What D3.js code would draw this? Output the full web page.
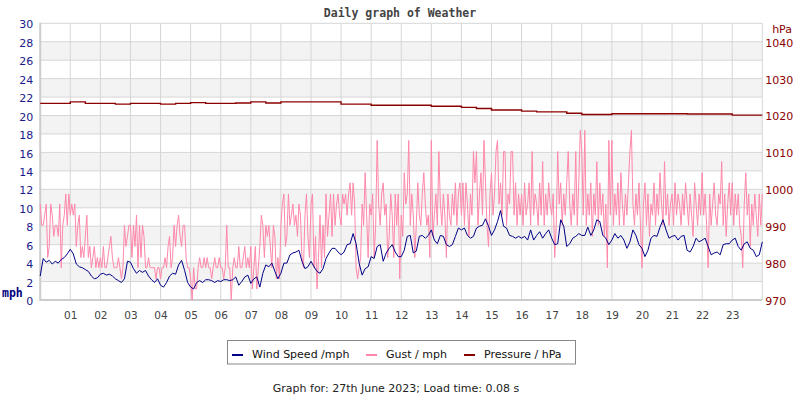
<!DOCTYPE html>
<html>
<head>
<meta charset="utf-8">
<script src="https://d3js.org/d3.v7.min.js"></script>
<style>
  body { margin: 0; background: #fff; }
  svg { display: block; font-family: "DejaVu Sans", sans-serif; }
</style>
</head>
<body>
<svg id="chart" width="800" height="400"></svg>
<script>
// wind: one sample every 0.1 h (6 minutes), 00:00 .. 24:00
var windStep = 0.1;
var windSpeed = [
  2.6, 4.5, 4.1, 4.3, 3.9, 4.2, 4.0, 4.4, 4.6, 5.0,
  5.5, 5.0, 3.9, 3.6, 3.5, 3.3, 3.1, 2.6, 2.3, 2.4,
  2.8, 2.9, 2.7, 2.8, 2.6, 2.3, 2.1, 1.9, 2.3, 4.2,
  4.1, 3.4, 2.9, 3.2, 3.0, 3.2, 2.6, 2.2, 1.9, 2.3,
  1.6, 1.4, 1.9, 2.6, 2.9, 2.8, 3.8, 4.3, 3.2, 1.9,
  1.4, 1.2, 1.9, 2.1, 1.9, 2.2, 2.2, 2.1, 1.9, 2.1,
  2.0, 2.2, 2.2, 2.1, 2.2, 2.5, 1.6, 2.0, 2.5, 2.7,
  1.8, 2.3, 2.5, 1.4, 2.9, 3.8, 3.6, 4.0, 3.1, 2.3,
  2.9, 4.0, 4.0, 4.9, 5.1, 5.2, 5.4, 4.2, 3.4, 3.6,
  4.2, 3.6, 3.1, 2.9, 3.4, 4.5, 5.1, 5.6, 5.6, 5.2,
  4.9, 5.2, 6.0, 6.1, 7.2, 6.1, 4.0, 2.7, 3.4, 3.6,
  4.7, 4.5, 5.8, 6.0, 4.2, 5.1, 5.6, 6.0, 5.2, 4.7,
  4.7, 5.4, 6.9, 7.0, 5.1, 5.3, 6.9, 7.0, 6.7, 7.0,
  7.6, 6.5, 6.1, 7.0, 6.9, 6.0, 5.8, 6.0, 6.9, 7.8,
  7.6, 7.8, 7.0, 6.7, 6.9, 7.8, 8.0, 8.1, 8.8, 8.0,
  7.0, 7.6, 8.5, 9.7, 8.0, 7.8, 7.0, 6.9, 6.7, 6.9,
  6.7, 6.9, 6.5, 7.6, 6.5, 7.0, 7.4, 6.7, 7.2, 7.6,
  6.7, 6.0, 6.1, 8.7, 8.0, 5.8, 6.1, 6.7, 6.9, 7.2,
  7.0, 7.0, 7.9, 7.0, 7.6, 8.7, 8.5, 7.0, 6.7, 6.0,
  6.5, 7.2, 6.7, 7.0, 6.5, 5.6, 6.3, 7.6, 7.0, 6.0,
  5.6, 4.7, 5.4, 6.7, 7.0, 6.9, 7.9, 8.7, 7.6, 6.7,
  6.9, 7.0, 6.5, 6.9, 7.0, 5.4, 5.2, 5.8, 6.7, 6.3,
  6.5, 6.7, 5.8, 4.9, 5.1, 5.2, 4.9, 6.0, 6.1, 6.1,
  6.5, 6.7, 5.8, 5.4, 6.1, 6.3, 5.6, 5.4, 4.7, 4.9,
  6.3
];

// gust: one sample every 0.05 h (3 minutes), one row per hour
var gustStep = 0.05;
var gust = [
  10.4, 8.1, 8.1, 9.2, 10.4, 4.6, 5.8, 10.4, 9.2, 6.9, 8.1, 8.1, 6.9, 10.4, 3.5, 8.1, 9.2, 11.5, 8.1, 11.5,
  9.2, 10.4, 9.2, 10.4, 5.8, 8.1, 9.2, 4.6, 5.8, 4.6, 6.9, 9.2, 4.6, 5.8, 3.5, 4.6, 5.8, 3.5, 4.6, 3.5,
  4.6, 3.5, 5.8, 3.5, 3.5, 4.6, 5.8, 6.9, 4.6, 3.5, 3.5, 3.5, 4.6, 3.5, 2.3, 3.5, 8.1, 5.8, 6.9, 8.1,
  8.1, 4.6, 8.1, 5.8, 9.2, 3.5, 8.1, 4.6, 8.1, 6.9, 3.5, 3.5, 4.6, 3.5, 3.5, 3.5, 3.5, 2.3, 3.5, 3.5,
  2.3, 3.5, 3.5, 4.6, 3.5, 5.8, 6.9, 3.5, 4.6, 8.1, 5.8, 8.1, 9.2, 6.9, 5.8, 8.1, 8.1, 4.6, 3.5, 3.5,
  2.3, 0.0, 3.5, 1.2, 1.2, 3.5, 4.6, 3.5, 3.5, 4.6, 3.5, 4.6, 3.5, 3.5, 2.3, 3.5, 4.6, 3.5, 3.5, 4.6,
  3.5, 3.5, 2.3, 3.5, 8.1, 3.5, 3.5, 0.0, 3.5, 4.6, 3.5, 3.5, 5.8, 3.5, 3.5, 4.6, 5.8, 3.5, 4.6, 3.5,
  5.8, 1.2, 3.5, 5.8, 1.2, 3.5, 5.8, 9.2, 8.1, 4.6, 8.1, 6.9, 8.1, 5.8, 3.5, 8.1, 6.9, 2.3, 4.6, 2.3,
  8.1, 10.4, 11.5, 5.8, 6.9, 11.5, 8.1, 9.2, 10.4, 8.1, 9.2, 6.9, 10.4, 9.2, 4.6, 3.5, 9.2, 11.5, 6.9, 4.6,
  10.4, 11.5, 3.5, 6.9, 1.2, 4.6, 9.2, 3.5, 8.1, 4.6, 11.5, 6.9, 9.2, 11.5, 6.9, 11.5, 8.1, 10.4, 11.5, 9.2,
  8.1, 11.5, 10.4, 11.5, 9.2, 11.5, 12.7, 9.2, 12.7, 10.4, 3.5, 2.3, 3.5, 4.6, 10.4, 8.1, 13.8, 9.2, 4.6, 10.4,
  9.2, 11.5, 4.6, 8.1, 17.3, 10.4, 8.1, 11.5, 12.7, 9.2, 10.4, 4.6, 6.9, 11.5, 9.2, 4.6, 11.5, 8.1, 11.5, 2.3,
  9.2, 6.9, 13.8, 10.4, 11.5, 17.3, 8.1, 11.5, 9.2, 4.6, 8.1, 12.7, 9.2, 8.1, 11.5, 13.8, 10.4, 8.1, 9.2, 4.6,
  17.3, 6.9, 9.2, 11.5, 8.1, 16.1, 10.4, 8.1, 11.5, 9.2, 4.6, 11.5, 9.2, 8.1, 11.5, 9.2, 12.7, 8.1, 11.5, 12.7,
  9.2, 12.7, 8.1, 12.7, 10.4, 6.9, 11.5, 9.2, 16.1, 12.7, 16.1, 8.1, 11.5, 13.8, 9.2, 17.3, 12.7, 8.1, 5.8, 11.5,
  13.8, 9.2, 11.5, 16.1, 17.3, 10.4, 12.7, 9.2, 16.1, 16.1, 8.1, 11.5, 10.4, 16.1, 16.1, 9.2, 12.7, 8.1, 11.5, 9.2,
  11.5, 8.1, 12.7, 9.2, 10.4, 12.7, 8.1, 16.1, 9.2, 11.5, 10.4, 8.1, 12.7, 9.2, 15.0, 8.1, 11.5, 9.2, 12.7, 10.4,
  9.2, 11.5, 4.6, 8.1, 16.1, 10.4, 12.7, 8.1, 11.5, 9.2, 12.7, 16.1, 10.4, 8.1, 11.5, 9.2, 16.1, 8.1, 12.7, 18.4,
  16.1, 9.2, 18.4, 8.1, 11.5, 9.2, 12.7, 6.9, 11.5, 9.2, 15.0, 8.1, 12.7, 9.2, 11.5, 6.9, 10.4, 3.5, 17.3, 9.2,
  17.3, 8.1, 11.5, 9.2, 12.7, 8.1, 13.8, 10.4, 8.1, 11.5, 9.2, 12.7, 16.1, 18.4, 10.4, 8.1, 11.5, 9.2, 12.7, 8.1,
  3.5, 10.4, 12.7, 8.1, 11.5, 6.9, 10.4, 9.2, 12.7, 8.1, 11.5, 9.2, 13.8, 10.4, 8.1, 15.0, 9.2, 11.5, 8.1, 10.4,
  11.5, 8.1, 12.7, 9.2, 11.5, 10.4, 8.1, 11.5, 9.2, 12.7, 10.4, 8.1, 11.5, 9.2, 6.9, 12.7, 10.4, 8.1, 11.5, 9.2,
  13.8, 9.2, 11.5, 8.1, 3.5, 11.5, 8.1, 10.4, 12.7, 9.2, 8.1, 11.5, 10.4, 15.0, 8.1, 11.5, 6.9, 10.4, 12.7, 9.2,
  12.7, 8.1, 11.5, 9.2, 11.5, 8.1, 6.9, 3.5, 10.4, 13.8, 9.2, 11.5, 5.8, 10.4, 8.1, 11.5, 9.2, 6.9, 11.5, 8.1,
  11.5
];

// pressure, every half hour
var pressureStep = 0.5;
var pressure = [
  1023.3, 1023.3, 1023.7, 1023.3, 1023.3, 1023.1, 1023.3, 1023.3,
  1023.1, 1023.3, 1023.5, 1023.3, 1023.3, 1023.4, 1023.7, 1023.4,
  1023.7, 1023.7, 1023.7, 1023.7, 1023.1, 1023.1, 1022.8, 1022.8,
  1022.8, 1022.8, 1022.5, 1022.5, 1022.2, 1021.9, 1021.5, 1021.5,
  1021.2, 1021.0, 1021.0, 1020.6, 1020.3, 1020.3, 1020.5, 1020.5,
  1020.5, 1020.5, 1020.5, 1020.4, 1020.4, 1020.4, 1020.1, 1020.1,
  1020.1
];

var mphTicks = [0, 2, 4, 6, 8, 10, 12, 14, 16, 18, 20, 22, 24, 26, 28, 30];
var hpaTicks = [970, 980, 990, 1000, 1010, 1020, 1030, 1040];
var hourTicks = [1, 2, 3, 4, 5, 6, 7, 8, 9, 10, 11, 12, 13, 14, 15, 16, 17, 18, 19, 20, 21, 22, 23];

var legendItems = [
  { label: "Wind Speed /mph", color: "#000088" },
  { label: "Gust / mph", color: "#ff88aa" },
  { label: "Pressure / hPa", color: "#8b0000" }
];

var svg = d3.select("#chart");

var x = d3.scaleLinear().domain([0, 24]).range([40.2, 762.3]);
var y = d3.scaleLinear().domain([0, 30]).range([300, 23.3]);
var yP = d3.scaleLinear().domain([970, 1045]).range([300, 23.3]);

// title
svg.append("text")
    .attr("x", 400)
    .attr("y", 17)
    .attr("text-anchor", "middle")
    .style("font-family", "'DejaVu Sans Mono', monospace")
    .style("font-weight", "bold")
    .style("font-size", "11.5px")
    .attr("fill", "#444")
    .text("Daily graph of Weather");

// shaded bands, every other 2 mph
var plot = svg.append("g").attr("class", "plot");
plot.selectAll("rect.band")
    .data(mphTicks.filter(function(d) { return d % 4 == 2 && d < 30; }))
    .enter()
    .append("rect")
    .attr("class", "band")
    .attr("x", x(0))
    .attr("width", x(24) - x(0))
    .attr("y", function(d) { return y(d + 2); })
    .attr("height", function(d) { return y(d) - y(d + 2); })
    .attr("fill", "#f3f3f3");

// grid lines
plot.selectAll("line.hgrid")
    .data(mphTicks.slice(1))
    .enter()
    .append("line")
    .attr("x1", x(0)).attr("x2", x(24))
    .attr("y1", function(d) { return y(d); })
    .attr("y2", function(d) { return y(d); })
    .attr("stroke", "#d6d6d6");

plot.selectAll("line.vgrid")
    .data(hourTicks.concat([24]))
    .enter()
    .append("line")
    .attr("x1", function(d) { return x(d); })
    .attr("x2", function(d) { return x(d); })
    .attr("y1", y(30)).attr("y2", y(0))
    .attr("stroke", "#d6d6d6");

// axis lines
plot.append("line")
    .attr("x1", x(0)).attr("x2", x(0))
    .attr("y1", y(30) - 0.5).attr("y2", y(0) + 1)
    .attr("stroke", "#cccccc").attr("stroke-width", 2);
plot.append("line")
    .attr("x1", x(0)).attr("x2", x(24))
    .attr("y1", y(0)).attr("y2", y(0))
    .attr("stroke", "#cccccc").attr("stroke-width", 2);

// series
function seriesLine(step, scale) {
    return d3.line()
        .x(function(d, i) { return x(i * step); })
        .y(function(d) { return scale(d); });
}

plot.append("path")
    .datum(gust)
    .attr("d", seriesLine(gustStep, y))
    .attr("fill", "none")
    .attr("stroke", "#ff88aa")
    .attr("stroke-width", 1);

plot.append("path")
    .datum(windSpeed)
    .attr("d", seriesLine(windStep, y))
    .attr("fill", "none")
    .attr("stroke", "#000088")
    .attr("stroke-width", 1);

plot.append("path")
    .datum(pressure)
    .attr("d", seriesLine(pressureStep, yP).curve(d3.curveStepAfter))
    .attr("fill", "none")
    .attr("stroke", "#8b0000")
    .attr("stroke-width", 1.4);

// axes
var leftAxis = svg.append("g")
    .attr("transform", "translate(" + x(0) + ",0)")
    .call(d3.axisLeft(y).tickValues(mphTicks).tickSize(0).tickPadding(7));
leftAxis.select(".domain").remove();
leftAxis.selectAll("text")
    .attr("dy", "0.42em")
    .attr("fill", "#1a1a8a")
    .style("font-family", "'DejaVu Sans', sans-serif")
    .style("font-size", "11px");

var rightAxis = svg.append("g")
    .attr("transform", "translate(" + x(24) + ",0)")
    .call(d3.axisRight(yP).tickValues(hpaTicks).tickSize(0).tickPadding(3)
        .tickFormat(d3.format("d")));
rightAxis.select(".domain").remove();
rightAxis.selectAll("text")
    .attr("dy", "0.4em")
    .attr("fill", "#8b0000")
    .style("font-family", "'DejaVu Sans', sans-serif")
    .style("font-size", "11px");

var bottomAxis = svg.append("g")
    .attr("transform", "translate(0," + y(0) + ")")
    .call(d3.axisBottom(x).tickValues(hourTicks).tickSize(0).tickPadding(11.5)
        .tickFormat(d3.format("02d")));
bottomAxis.select(".domain").remove();
bottomAxis.selectAll("text")
    .attr("fill", "#444")
    .style("font-family", "'DejaVu Sans', sans-serif")
    .style("font-size", "10.5px");

// unit labels
svg.append("text")
    .attr("x", 2)
    .attr("y", 297)
    .style("font-family", "'DejaVu Sans Mono', monospace")
    .style("font-weight", "bold")
    .style("font-size", "11.5px")
    .attr("fill", "#000080")
    .text("mph");

svg.append("text")
    .attr("x", 792)
    .attr("y", 33)
    .attr("text-anchor", "end")
    .style("font-size", "11px")
    .attr("fill", "#8b0000")
    .text("hPa");

// legend
var legend = svg.append("g").attr("class", "legend");
legend.append("rect")
    .attr("x", 227.5).attr("y", 340.5)
    .attr("width", 348).attr("height", 23.5)
    .attr("fill", "#fff")
    .attr("stroke", "#888");

var legendX = [232, 366, 464];
var entry = legend.selectAll("g.entry")
    .data(legendItems)
    .enter()
    .append("g")
    .attr("transform", function(d, i) { return "translate(" + legendX[i] + ",0)"; });
entry.append("line")
    .attr("x1", 0).attr("x2", 11)
    .attr("y1", 355).attr("y2", 355)
    .attr("stroke", function(d) { return d.color; })
    .attr("stroke-width", 2);
entry.append("text")
    .attr("x", 20)
    .attr("y", 357.5)
    .style("font-size", "11px")
    .attr("fill", "#111")
    .text(function(d) { return d.label; });

// footer
svg.append("text")
    .attr("x", 396)
    .attr("y", 391.5)
    .attr("text-anchor", "middle")
    .style("font-size", "11px")
    .attr("fill", "#222")
    .text("Graph for: 27th June 2023; Load time: 0.08 s");
</script>
</body>
</html>
